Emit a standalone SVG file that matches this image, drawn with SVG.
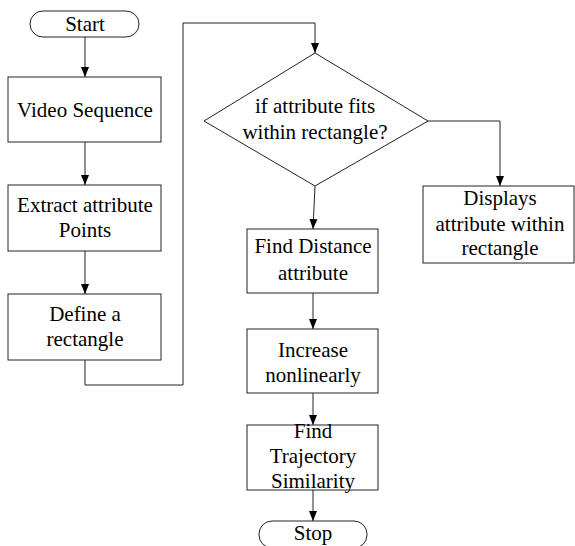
<svg xmlns="http://www.w3.org/2000/svg" width="575" height="546" viewBox="0 0 575 546">
<style>
.n{fill:#fff;stroke:#222;stroke-width:1}
.c{fill:none;stroke:#222;stroke-width:1}
text{font-family:'Liberation Serif','Times New Roman','DejaVu Serif',serif;font-size:21px;fill:#000;text-anchor:middle}
</style>
<defs>
<marker id="ah" viewBox="0 0 10 10" refX="10" refY="5" markerWidth="10" markerHeight="10" markerUnits="userSpaceOnUse" orient="auto">
<path d="M0,1 L10,5 L0,9 Z" fill="#000"/>
</marker>
</defs>
<rect width="575" height="546" fill="#fff"/>
<g id="connectors">
<path class="c" d="M85,37 V77" marker-end="url(#ah)"/>
<path class="c" d="M85,142 V185" marker-end="url(#ah)"/>
<path class="c" d="M85,251 V294" marker-end="url(#ah)"/>
<path class="c" d="M85,360 V385 H183 V23 H315 V53" marker-end="url(#ah)"/>
<path class="c" d="M428,121 H500 V186" marker-end="url(#ah)"/>
<path class="c" d="M315,186 L313,229" marker-end="url(#ah)"/>
<path class="c" d="M313,293 V329" marker-end="url(#ah)"/>
<path class="c" d="M313,393 V425" marker-end="url(#ah)"/>
<path class="c" d="M313,490 V521" marker-end="url(#ah)"/>
</g>
<g id="start">
<rect class="n" x="30" y="11" width="109" height="26" rx="13"/>
<text x="85" y="31" font-family="Liberation Serif, serif">Start</text>
</g>
<g id="video">
<rect class="n" x="8" y="77" width="153" height="65"/>
<text x="85" y="117">Video Sequence</text>
</g>
<g id="extract">
<rect class="n" x="8" y="185" width="153" height="66"/>
<text x="85" y="212">Extract attribute</text>
<text x="85" y="237">Points</text>
</g>
<g id="define">
<rect class="n" x="8" y="294" width="153" height="66"/>
<text x="85" y="321">Define a</text>
<text x="85" y="346">rectangle</text>
</g>
<g id="decision">
<polygon class="n" points="315,53 428,121 315,186 204,121"/>
<text x="315" y="113">if attribute fits</text>
<text x="315" y="139">within rectangle?</text>
</g>
<g id="displays">
<rect class="n" x="423" y="186" width="151" height="77"/>
<text x="500" y="205">Displays</text>
<text x="500" y="231">attribute within</text>
<text x="500" y="255">rectangle</text>
</g>
<g id="distance">
<rect class="n" x="247" y="229" width="131" height="64"/>
<text x="313" y="253">Find Distance</text>
<text x="313" y="280">attribute</text>
</g>
<g id="increase">
<rect class="n" x="247" y="329" width="131" height="64"/>
<text x="313" y="357">Increase</text>
<text x="313" y="382">nonlinearly</text>
</g>
<g id="trajectory">
<rect class="n" x="247" y="425" width="131" height="65"/>
<text x="313" y="438">Find</text>
<text x="313" y="463">Trajectory</text>
<text x="313" y="488">Similarity</text>
</g>
<g id="stop">
<rect class="n" x="259" y="521" width="108" height="27" rx="13"/>
<text x="313" y="540">Stop</text>
</g>
</svg>
